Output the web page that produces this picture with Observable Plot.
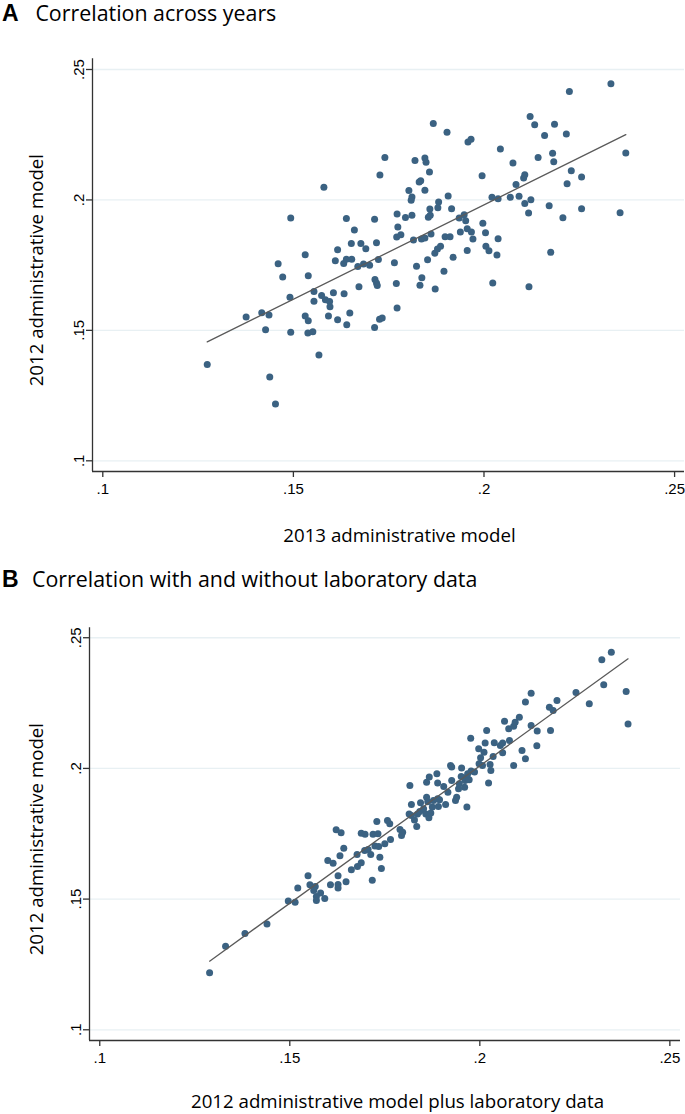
<!DOCTYPE html>
<html><head><meta charset="utf-8">
<script src="https://cdn.jsdelivr.net/npm/d3@7"></script>
<script src="https://cdn.jsdelivr.net/npm/@observablehq/plot@0.6"></script>
<style>
body{margin:0;background:#fff;width:685px;height:1114px;position:relative;overflow:hidden}
.t{position:absolute;left:0;width:685px;height:27px;white-space:nowrap;line-height:26px;color:#000}
.t b{font-family:"Liberation Sans",Arial,sans-serif;font-weight:bold;font-size:23px;position:absolute;left:2px;top:0}
.t span{font-family:"Open Sans",sans-serif;font-size:21.4px;position:absolute;top:0}
.p{position:absolute;left:0}
</style></head><body>
<div class="t" style="top:0"><b>A</b><span style="left:35.4px">Correlation across years</span></div>
<div id="pa" class="p" style="top:40px"></div>
<div class="t" style="top:566px"><b>B</b><span style="left:32px">Correlation with and without laboratory data</span></div>
<div id="pb" class="p" style="top:600px"></div>
<script>
// ---- data ----
const tickValues = [0.1, 0.15, 0.2, 0.25];
const tickLabels = [".1", ".15", ".2", ".25"];

const titleA = "Correlation across years";
const xLabelA = "2013 administrative model";
const yLabelA = "2012 administrative model";
const titleB = "Correlation with and without laboratory data";
const xLabelB = "2012 administrative model plus laboratory data";
const yLabelB = "2012 administrative model";

// Panel A: x = 2013 administrative model, y = 2012 administrative model
const aX = [0.1274,0.1376,0.1417,0.1436,0.1427,0.1438,0.1453,0.1460,0.1472,0.1493,0.1491,0.1493,0.1531,0.1539,0.1554,0.1554,0.1531,0.1539,0.1538,0.1551,0.1567,0.1580,0.1574,0.1584,0.1595,0.1596,0.1592,0.1605,0.1616,0.1610,0.1616,0.1632,0.1639,0.1653,0.1633,0.1648,0.1640,0.1639,0.1660,0.1652,0.1677,0.1690,0.1669,0.1684,0.1700,0.1672,0.1713,0.1718,0.1727,0.1723,0.1714,0.1718,0.1720,0.1726,0.1713,
0.1733,0.1740,0.1772,0.1774,0.1771,0.1782,0.1765,0.1770,0.1772,0.1794,0.1811,0.1803,0.1811,0.1809,0.1819,0.1815,0.1823,0.1837,0.1832,0.1830,0.1834,0.1845,0.1848,0.1857,0.1845,0.1867,0.1903,0.1858,0.1854,0.1859,0.1836,0.1845,0.1861,0.1852,0.1871,0.1878,0.1886,0.1895,0.1872,0.1881,0.1879,0.1906,0.1915,0.1898,0.1911,0.1919,0.1935,0.1948,0.1952,0.1938,0.1956,0.1967,0.1971,0.1956,0.1958,0.1966,0.1995,0.2021,0.2037,0.1997,0.2004,0.2005,0.2013,0.2037,0.2034,0.2023,0.2043,0.2069,0.2076,0.2084,0.2092,0.2104,0.2107,0.2107,0.2123,0.2117,0.2118,0.2121,0.2133,0.2142,0.2159,0.2171,0.2175,0.2180,0.2183,0.2185,0.2207,0.2216,0.2224,0.2218,0.2229,0.2256,0.2256,0.2333,0.2357,0.2372];
const aY = [0.1369,0.1551,0.1568,0.1559,0.1502,0.1321,0.1218,0.1755,0.1705,0.1931,0.1627,0.1493,0.1790,0.1709,0.1649,0.1612,0.1555,0.1537,0.1490,0.1495,0.1406,0.2049,0.1634,0.1617,0.1611,0.1591,0.1555,0.1644,0.1541,0.1767,0.1809,0.1756,0.1773,0.1773,0.1640,0.1567,0.1522,0.1929,0.1885,0.1833,0.1833,0.1813,0.1745,0.1754,0.1750,0.1667,0.1926,0.1836,0.2096,0.1772,0.1695,0.1682,0.1672,0.1543,0.1511,
0.1547,0.2163,0.1946,0.1896,0.1858,0.1867,0.1759,0.1680,0.1586,0.1933,0.1941,0.2036,0.2011,0.1999,0.2151,0.1846,0.1746,0.1702,0.1673,0.2069,0.2074,0.2161,0.2144,0.2107,0.2037,0.2293,0.2259,0.1965,0.1934,0.1941,0.1850,0.1854,0.1869,0.1771,0.1796,0.1812,0.1822,0.1727,0.1659,0.1992,0.1970,0.2015,0.1966,0.1859,0.1859,0.1780,0.1931,0.1943,0.1920,0.1877,0.1890,0.1877,0.1850,0.1806,0.2222,0.2233,0.2093,0.2010,0.2005,0.1911,0.1874,0.1822,0.1805,0.1851,0.1789,0.1682,0.2195,0.2010,0.2142,0.2059,0.2014,0.2084,0.2097,0.1986,0.2001,0.1950,0.1667,0.2320,0.2288,0.2163,0.2247,0.1978,0.1799,0.2179,0.2146,0.2290,0.1932,0.2253,0.2416,0.2062,0.2112,0.2088,0.1966,0.2445,0.1951,0.2180];

// Panel B: x = 2012 administrative model plus laboratory data, y = 2012 administrative model
const bX = [0.1289,0.1331,0.1382,0.1440,0.1496,0.1514,0.1521,0.1548,0.1553,0.1567,0.1563,0.1581,0.1570,0.1570,0.1592,0.1600,0.1614,0.1622,0.1635,0.1642,0.1632,0.1627,0.1607,0.1627,0.1627,0.1648,0.1662,
0.1677,0.1678,0.1688,0.1717,0.1741,0.1697,0.1706,0.1713,0.1724,0.1734,0.1737,0.1750,0.1765,0.1729,0.1757,0.1763,0.1688,0.1698,0.1719,0.1732,0.1790,0.1797,0.1794,0.1820,0.1816,0.1814,0.1820,0.1828,0.1834,0.1836,0.1842,0.1844,0.1852,0.1860,0.1863,0.1858,0.1866,0.1871,0.1875,0.1860,0.1867,0.1887,0.1889,0.1878,0.1889,0.1894,0.1891,0.1910,0.1905,0.1916,0.1926,0.1923,0.1926,0.1939,0.1936,0.1944,0.1946,0.1951,0.1952,0.1961,0.1966,0.1972,0.1960,0.1968,0.1977,0.1986,0.1966,0.1997,0.1976,0.1998,0.2002,
0.2007,0.2018,0.2011,0.2014,0.2038,0.2054,0.2060,0.2035,0.2027,0.2029,0.2023,0.2060,0.2078,0.2089,0.2065,0.2076,0.2089,0.2093,0.2104,0.2111,0.2120,0.2120,0.2135,0.2135,0.2151,0.2150,0.2183,0.2193,0.2203,0.2186,0.2253,0.2288,0.2321,0.2346,0.2326,0.2385,0.2390];
const bY = [0.1218,0.1320,0.1368,0.1405,0.1493,0.1488,0.1542,0.1589,0.1555,0.1548,0.1533,0.1523,0.1510,0.1495,0.1502,0.1648,0.1637,0.1765,0.1754,0.1695,0.1666,0.1589,0.1555,0.1556,0.1542,0.1566,0.1612,
0.1671,0.1625,0.1639,0.1572,0.1617,0.1686,0.1690,0.1671,0.1703,0.1701,0.1660,0.1712,0.1728,0.1797,0.1801,0.1788,0.1752,0.1748,0.1748,0.1750,0.1766,0.1756,0.1743,0.1862,0.1935,0.1826,0.1820,0.1803,0.1778,0.1826,0.1835,0.1869,0.1846,0.1890,0.1872,0.1826,0.1811,0.1829,0.1852,0.1947,0.1967,0.1980,0.1944,0.1877,0.1884,0.1880,0.1854,0.1862,0.1931,0.1909,0.1954,0.2011,0.2005,0.1890,0.1877,0.1922,0.1941,0.1969,0.2002,0.1954,0.1967,0.1957,0.1928,0.1980,0.1990,0.1986,0.1852,0.2075,0.2115,0.2018,0.2041,
0.2011,0.2145,0.2062,0.2097,0.2098,0.2088,0.2097,0.2046,0.2015,0.1992,0.1944,0.2060,0.2107,0.2011,0.2180,0.2152,0.2161,0.2177,0.2196,0.2069,0.2037,0.2254,0.2288,0.2164,0.2143,0.2087,0.2234,0.2222,0.2260,0.2145,0.2290,0.2247,0.2416,0.2444,0.2320,0.2294,0.2170];

// ---- drawing ----
const dotColor = "#3b6282";
const gridColor = "#e8f0f3";
const axisColor = "#333333";
const tickFmt = d => tickLabels[tickValues.indexOf(d)];

function panel(xs, ys, cfg) {
  const data = xs.map((x, i) => ({x, y: ys[i]}));
  return Plot.plot({
    width: 685,
    height: cfg.height,
    marginTop: cfg.mt, marginBottom: cfg.mb, marginLeft: cfg.ml, marginRight: cfg.mr,
    style: {fontFamily: "'Liberation Sans', Arial, sans-serif", fontSize: "15px", color: "#000", background: "#fff"},
    x: {domain: cfg.xd, label: null},
    y: {domain: cfg.yd, label: null},
    marks: [
      Plot.gridY(tickValues, {stroke: gridColor, strokeOpacity: 1, strokeWidth: 1.3}),
      Plot.ruleY([cfg.yd[0]], {stroke: axisColor, strokeWidth: 1.3}),
      Plot.ruleX([cfg.xd[0]], {stroke: axisColor, strokeWidth: 1.3}),
      Plot.axisX({ticks: tickValues, tickFormat: tickFmt, tickSize: 6, tickPadding: 6, stroke: axisColor, strokeWidth: 1.3, label: null}),
      Plot.axisY({ticks: tickValues, tickFormat: tickFmt, tickSize: 6, tickRotate: -90, tickPadding: 3, stroke: axisColor, strokeWidth: 1.3, label: null}),
      Plot.dot(data, {x: "x", y: "y", r: 3.5, fill: dotColor, stroke: "none"}),
      Plot.linearRegressionY(data, {x: "x", y: "y", ci: 0, stroke: "#5a5a5a", strokeWidth: 1.3}),
      Plot.text([cfg.xLabel], {frameAnchor: "bottom", dx: cfg.xdx, dy: cfg.xdy, text: d => d, fontFamily: "'Open Sans', sans-serif", fontSize: 18.7, fill: "#000", textAnchor: "middle", lineAnchor: "middle"}),
      Plot.text([cfg.yLabel], {frameAnchor: "left", dx: cfg.ydx, dy: 5, rotate: -90, text: d => d, fontFamily: "'Open Sans', sans-serif", fontSize: 18.7, fill: "#000", textAnchor: "middle", lineAnchor: "middle"})
    ]
  });
}

document.getElementById("pa").append(panel(aX, aY, {
  height: 520, mt: 18.3, mb: 89, ml: 92, mr: 1,
  xd: [0.0973, 0.2526], yd: [0.0959, 0.2541],
  xLabel: xLabelA, yLabel: yLabelA, xdx: 11, xdy: 64.7, ydx: -55
}));
document.getElementById("pb").append(panel(bX, bY, {
  height: 514, mt: 27.3, mb: 74, ml: 89, mr: 5,
  xd: [0.0973, 0.2528], yd: [0.0959, 0.2538],
  xLabel: xLabelB, yLabel: yLabelB, xdx: 12.5, xdy: 62, ydx: -52
}));
</script>
</body></html>
